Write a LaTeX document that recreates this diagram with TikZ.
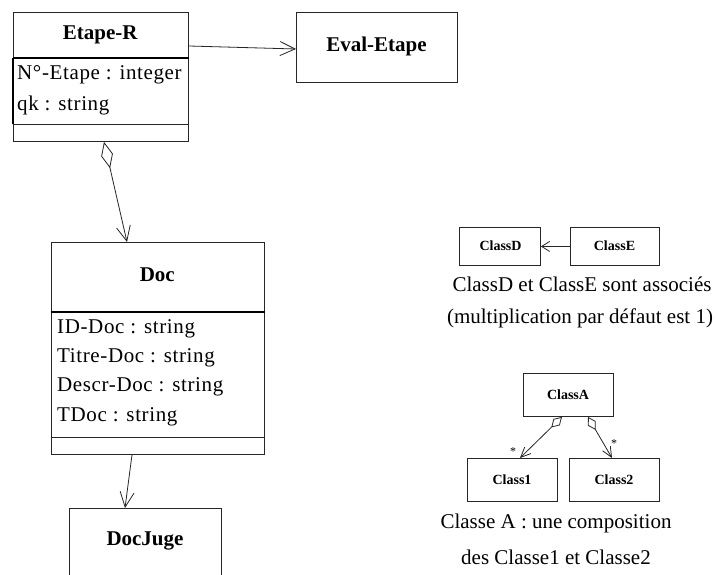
\documentclass[tikz,border=0pt]{standalone}
\usepackage{fontspec}
\setmainfont{Liberation Serif}
\newfontfamily\attrfont[LetterSpace=3]{Liberation Serif}
\usetikzlibrary{arrows.meta,calc}
\begin{document}
\begin{tikzpicture}[x=1pt,y=-1pt,
  box/.style={draw=black!85,line width=0.9pt,rectangle,inner sep=0pt,anchor=north west},
  big/.style={font=\fontsize{21}{25}\selectfont,inner sep=0pt},
  bigb/.style={font=\bfseries\fontsize{21}{25}\selectfont,inner sep=0pt},
  smallb/.style={font=\bfseries\fontsize{14}{16}\selectfont,inner sep=0pt},
  attr/.style={font=\attrfont\fontsize{21}{25}\selectfont,anchor=west,inner sep=0pt},
  sepline/.style={draw=black!85,line width=0.9pt},
  hsep/.style={draw=black,line width=1.8pt},
  mult/.style={font=\fontsize{12}{14}\selectfont,inner sep=0pt},
  assoc/.style={draw=black!85,line width=0.8pt,-{Straight Barb[length=15pt,width=14pt]}},
  sassoc/.style={draw=black!85,line width=0.8pt,-{Straight Barb[length=8pt,width=10pt]}},
  aggr/.style={draw=black!85,line width=0.8pt,{Diamond[open,length=27pt,width=12pt]}-{Straight Barb[length=15pt,width=14pt]}},
  saggr/.style={draw=black!85,line width=0.8pt,{Diamond[open,length=15pt,width=9pt]}-{Straight Barb[length=10pt,width=9pt]}}
]
\useasboundingbox (0,0) rectangle (718,575);
\fill[white] (0,0) rectangle (718,575);

% Etape-R
\node[box,minimum width=175.3pt,minimum height=129pt] (er) at (12.7,12) {};
\draw[hsep] ($(er.north west)+(0,46)$) -- ($(er.north east)+(0,46)$);
\draw[sepline] ($(er.north west)+(0,112)$) -- ($(er.north east)+(0,112)$);
\draw[draw=black,line width=1.6pt] ($(er.north west)+(0,46)$) -- ($(er.north west)+(0,112)$);
\node[bigb] (ert) at (100.3,35) {Etape-R};
\node[attr] (era1) at (17,75) {N°-Etape : integer};
\node[attr] (era2) at (17,105) {qk : string};

% Eval-Etape
\node[box,minimum width=161pt,minimum height=70pt] (ev) at (296,12) {};
\node[bigb] (evt) at (376.5,46) {Eval-Etape};

% Doc
\node[box,minimum width=213.3pt,minimum height=212pt] (doc) at (50.7,242) {};
\draw[hsep] ($(doc.north west)+(0,70)$) -- ($(doc.north east)+(0,70)$);
\draw[sepline] ($(doc.north west)+(0,195)$) -- ($(doc.north east)+(0,195)$);
\node[bigb] (doct) at (157.3,275) {Doc};
\node[attr] (doca1) at (57,329) {ID-Doc : string};
\node[attr] (doca2) at (57,358) {Titre-Doc : string};
\node[attr] (doca3) at (57,387) {Descr-Doc : string};
\node[attr] (doca4) at (57,417) {TDoc : string};

% DocJuge (cut off at the bottom)
\begin{scope}
\clip (0,0) rectangle (718,575);
\node[box,minimum width=152pt,minimum height=90pt] (dj) at (69,508) {};
\end{scope}
\node[bigb] (djt) at (145,541) {DocJuge};

% connectors left part
\draw[assoc] ($(er.north east)+(0,34)$) -- ($(ev.north west)+(0,37)$);
\draw[aggr] ($(er.south west)+(91.3,0)$) -- ($(doc.north west)+(76.3,0)$);
\draw[assoc] ($(doc.south west)+(81.3,0)$) -- ($(dj.north west)+(56,0)$);

% ClassD / ClassE
\node[box,minimum width=81pt,minimum height=38pt] (cd) at (459,227) {};
\node[smallb] (cdt) at (500.5,246) {ClassD};
\node[box,minimum width=89pt,minimum height=38pt] (ce) at (570,227) {};
\node[smallb] (cet) at (614.5,246) {ClassE};
\draw[sassoc] (ce.west) -- (cd.east);
\node[big] (capd1) at (582,284) {ClassD et ClassE sont associés};
\node[big] (capd2) at (580,318) {(multiplication par défaut est 1)};

% ClassA / Class1 / Class2
\node[box,minimum width=90pt,minimum height=43pt] (ca) at (523,373) {};
\node[smallb] (cat) at (568,394.5) {ClassA};
\node[box,minimum width=90pt,minimum height=43pt] (c1) at (467,458) {};
\node[smallb] (c1t) at (512,479.5) {Class1};
\node[box,minimum width=90pt,minimum height=43pt] (c2) at (569,458) {};
\node[smallb] (c2t) at (614,479.5) {Class2};
\draw[saggr] ($(ca.south west)+(39,0)$) -- ($(c1.north west)+(53,0)$);
\draw[saggr] ($(ca.south west)+(65,0)$) -- ($(c2.north west)+(43,0)$);
\node[mult] (m1) at (513,452) {*};
\node[mult] (m2) at (614,444) {*};
\node[big] (capa1) at (556,523) {Classe A : une composition};
\node[big] (capa2) at (556,557) {des Classe1 et Classe2};
\end{tikzpicture}
\end{document}
